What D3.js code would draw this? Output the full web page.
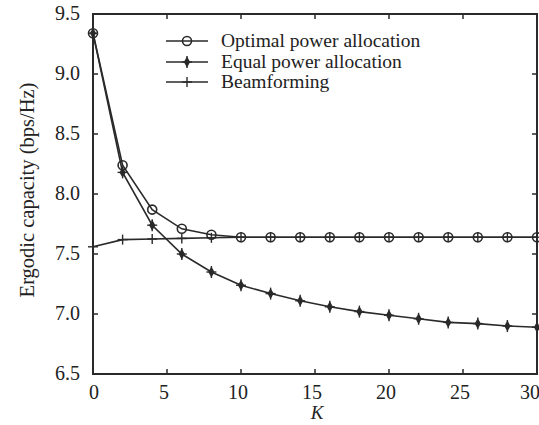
<!DOCTYPE html>
<html>
<head>
<meta charset="utf-8">
<script src="https://cdn.jsdelivr.net/npm/d3@7"></script>
<style>
  body { margin: 0; background: #fff; }
</style>
</head>
<body>
<div id="chart"></div>
<script>
// K values (users)
var kValues = [0, 2, 4, 6, 8, 10, 12, 14, 16, 18, 20, 22, 24, 26, 28, 30];
var optimalValues = [9.34, 8.24, 7.87, 7.71, 7.66, 7.64, 7.64, 7.64, 7.64, 7.64, 7.64, 7.64, 7.64, 7.64, 7.64, 7.64];
var equalValues = [9.34, 8.18, 7.74, 7.50, 7.35, 7.24, 7.17, 7.11, 7.06, 7.02, 6.99, 6.96, 6.93, 6.92, 6.90, 6.89];
var beamValues = [7.56, 7.62, 7.625, 7.63, 7.635, 7.64, 7.64, 7.64, 7.64, 7.64, 7.64, 7.64, 7.64, 7.64, 7.64, 7.64];
var xTicks = [0, 5, 10, 15, 20, 25, 30];
var yTicks = [6.5, 7.0, 7.5, 8.0, 8.5, 9.0, 9.5];
var seriesNames = ['Optimal power allocation', 'Equal power allocation', 'Beamforming'];

var width = 539, height = 425;
var margin = {top: 14, right: 2, bottom: 51, left: 93};
var ink = '#2a2a2a';
var serif = "'Liberation Serif', 'Times New Roman', Times, serif";

var svg = d3.select('#chart').append('svg')
    .attr('width', width)
    .attr('height', height)
    .attr('font-family', serif);

var x = d3.scaleLinear().domain([0, 30]).range([margin.left, width - margin.right]);
var y = d3.scaleLinear().domain([6.5, 9.5]).range([height - margin.bottom, margin.top]);

// tick marks inside, mirrored on top/right
var tickLen = 5;
var g = svg.append('g');
xTicks.forEach(function(t) {
    g.append('line').attr('x1', x(t)).attr('x2', x(t))
        .attr('y1', y(6.5)).attr('y2', y(6.5) - tickLen)
        .attr('stroke', ink).attr('stroke-width', 1.5);
    g.append('line').attr('x1', x(t)).attr('x2', x(t))
        .attr('y1', y(9.5)).attr('y2', y(9.5) + tickLen)
        .attr('stroke', ink).attr('stroke-width', 1.5);
    // last label is pushed left to stay in the window
    g.append('text')
        .attr('x', t === 30 ? width + 1 : x(t) - (t === 0 ? -1 : 3))
        .attr('y', y(6.5) + 25)
        .attr('text-anchor', t === 30 ? 'end' : 'middle')
        .attr('font-size', 20).attr('fill', '#222').text(t);
});
yTicks.forEach(function(t) {
    g.append('line').attr('x1', x(0)).attr('x2', x(0) + tickLen)
        .attr('y1', y(t)).attr('y2', y(t))
        .attr('stroke', ink).attr('stroke-width', 1.5);
    g.append('line').attr('x1', x(30)).attr('x2', x(30) - tickLen)
        .attr('y1', y(t)).attr('y2', y(t))
        .attr('stroke', ink).attr('stroke-width', 1.5);
    g.append('text').attr('x', x(0) - 13).attr('y', y(t) + 6)
        .attr('text-anchor', 'end')
        .attr('font-size', 20).attr('fill', '#222').text(d3.format('.1f')(t));
});

// frame
svg.append('rect')
    .attr('x', x(0)).attr('y', y(9.5))
    .attr('width', x(30) - x(0)).attr('height', y(6.5) - y(9.5))
    .attr('fill', 'none').attr('stroke', ink).attr('stroke-width', 2);

// axis labels
svg.append('text')
    .attr('transform', 'translate(34,190) rotate(-90)')
    .attr('text-anchor', 'middle')
    .attr('font-size', 20.5).attr('fill', '#222')
    .text('Ergodic capacity (bps/Hz)');
svg.append('text')
    .attr('x', 317).attr('y', 419)
    .attr('text-anchor', 'middle')
    .attr('font-size', 19).attr('font-style', 'italic').attr('fill', '#222')
    .text('K');

var line = d3.line()
    .x(function(d) { return x(d[0]); })
    .y(function(d) { return y(d[1]); });

function pairs(vals) {
    return kValues.map(function(k, i) { return [k, vals[i]]; });
}

var series = [pairs(optimalValues), pairs(equalValues), pairs(beamValues)];

var plot = svg.append('g');
series.forEach(function(s) {
    plot.append('path').datum(s)
        .attr('d', line)
        .attr('fill', 'none').attr('stroke', ink).attr('stroke-width', 1.6);
});

// markers
function drawMarker(sel, type, cx, cy) {
    if (type === 0) {
        sel.append('circle').attr('cx', cx).attr('cy', cy).attr('r', 4.5)
            .attr('fill', 'none').attr('stroke', ink).attr('stroke-width', 1.6);
    } else if (type === 1) {
        sel.append('path')
            .attr('d', d3.symbol().type(d3.symbolDiamond).size(34)())
            .attr('transform', 'translate(' + cx + ',' + cy + ')')
            .attr('fill', ink);
        sel.append('line').attr('x1', cx).attr('x2', cx).attr('y1', cy - 6).attr('y2', cy + 6)
            .attr('stroke', ink).attr('stroke-width', 1.4);
        sel.append('line').attr('x1', cx - 5).attr('x2', cx + 5).attr('y1', cy).attr('y2', cy)
            .attr('stroke', ink).attr('stroke-width', 1.4);
    } else {
        sel.append('line').attr('x1', cx).attr('x2', cx).attr('y1', cy - 5).attr('y2', cy + 5)
            .attr('stroke', ink).attr('stroke-width', 1.4);
        sel.append('line').attr('x1', cx - 5).attr('x2', cx + 5).attr('y1', cy).attr('y2', cy)
            .attr('stroke', ink).attr('stroke-width', 1.4);
    }
}

series.forEach(function(s, si) {
    s.forEach(function(d) {
        drawMarker(plot, si, x(d[0]), y(d[1]));
    });
});

// legend
var legendX0 = 166, legendX1 = 208, legendY = [41, 62, 82];
seriesNames.forEach(function(name, i) {
    svg.append('line')
        .attr('x1', legendX0).attr('x2', legendX1)
        .attr('y1', legendY[i]).attr('y2', legendY[i])
        .attr('stroke', ink).attr('stroke-width', 1.6);
    drawMarker(svg, i, (legendX0 + legendX1) / 2, legendY[i]);
    svg.append('text')
        .attr('x', 221).attr('y', legendY[i] + 6)
        .attr('font-size', 19.5).attr('fill', '#222')
        .text(name);
});
</script>
</body>
</html>
